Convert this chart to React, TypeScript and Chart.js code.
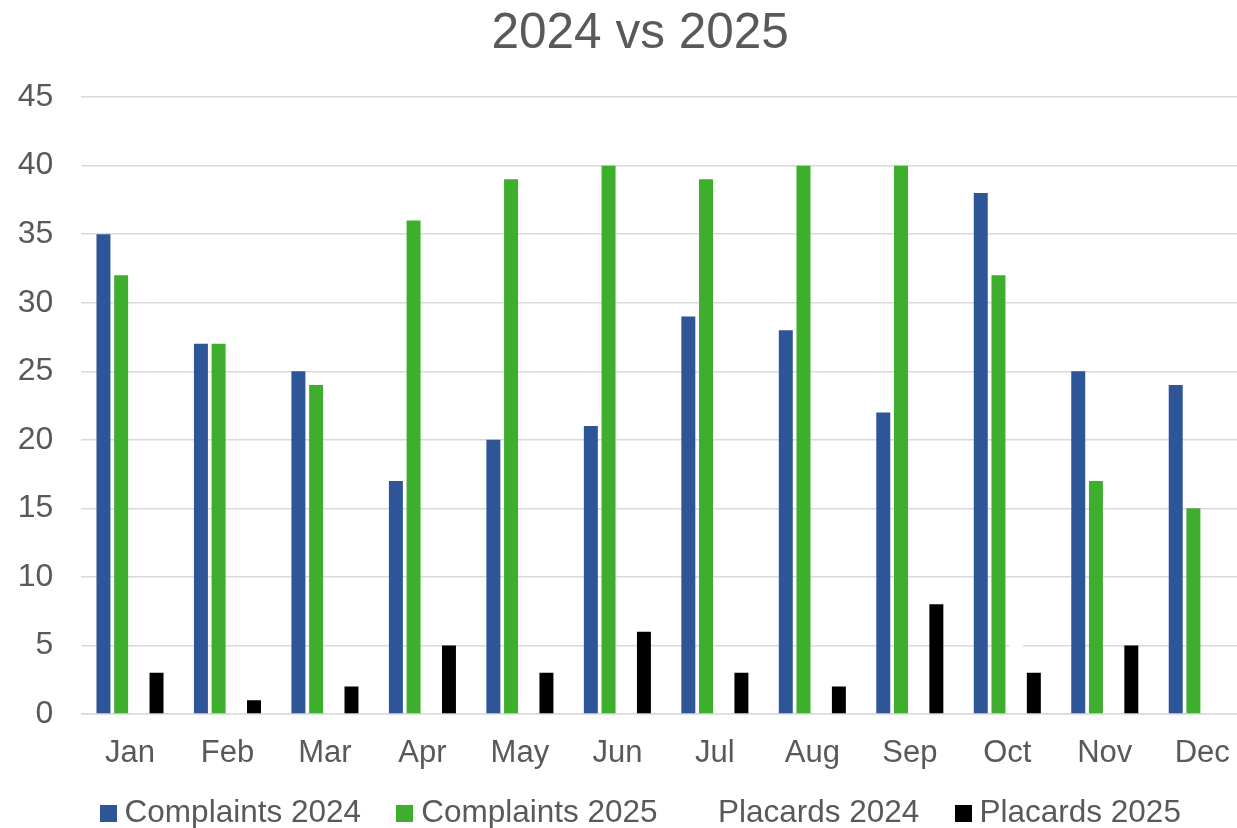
import React, { useEffect, useRef } from "react";
import { Chart, registerables } from "chart.js";

Chart.register(...registerables);

const months = ["Jan", "Feb", "Mar", "Apr", "May", "Jun", "Jul", "Aug", "Sep", "Oct", "Nov", "Dec"];
const complaints2024 = [35, 27, 25, 17, 20, 21, 29, 28, 22, 38, 25, 24];
const complaints2025 = [32, 27, 24, 36, 39, 40, 39, 40, 40, 32, 17, 15];
// white bars: only October's rises above the 5 gridline; the rest are estimated below 5
const placards2024 = [2, 2, 2, 2, 2, 2, 2, 2, 2, 6, 2, 2];
const placards2025 = [3, 1, 2, 5, 3, 6, 3, 2, 8, 3, 5, 0];
const yTicks = [0, 5, 10, 15, 20, 25, 30, 35, 40, 45];

const seriesColors = ["#2E5597", "#3DAF2C", "#FFFFFF", "#000000"];

const FONT = '"Liberation Sans", Arial, sans-serif';
const TEXT = "#595959";
const LEGEND_PAD = 43;

const placePlugin = {
  id: "placeBlocks",
  afterLayout(chart: any) {
    const t = chart.titleBlock;
    if (t) {
      t.left += 7;
      t.right += 7;
    }
    const lg = chart.legend;
    if (lg) {
      lg.left += 11;
      lg.right += 11;
      lg.top = 813 - 15.75 - LEGEND_PAD;
      lg.bottom = 828;
    }
  },
};

function makeSwatch(color: string) {
  const c = document.createElement("canvas");
  c.width = 17;
  c.height = 17;
  const g = c.getContext("2d");
  if (g) {
    g.fillStyle = color;
    g.fillRect(0, 0, 17, 17);
  }
  return c;
}

export default function App() {
  const ref = useRef<HTMLCanvasElement | null>(null);
  useEffect(() => {
    if (!ref.current) return;
    const swatches = seriesColors.map(makeSwatch);
    const defaultGen = (Chart as any).defaults.plugins.legend.labels.generateLabels;
    const common = { categoryPercentage: 0.726, barPercentage: 0.79, borderWidth: 0 };
    const chart = new Chart(ref.current, {
      type: "bar",
      data: {
        labels: months,
        datasets: [
          { label: "Complaints 2024", data: complaints2024, backgroundColor: seriesColors[0], ...common },
          { label: "Complaints 2025", data: complaints2025, backgroundColor: seriesColors[1], ...common },
          { label: "Placards 2024", data: placards2024, backgroundColor: seriesColors[2], ...common },
          { label: "Placards 2025", data: placards2025, backgroundColor: seriesColors[3], ...common },
        ],
      },
      plugins: [placePlugin],
      options: {
        responsive: false,
        animation: false,
        layout: { padding: { left: 15.25, right: 29, top: 0, bottom: 0 } },
        plugins: {
          title: {
            display: true,
            text: "2024 vs 2025",
            color: TEXT,
            font: { family: FONT, size: 49.5, weight: "normal" },
            padding: { top: 5, bottom: 32.7 },
          },
          legend: {
            position: "bottom",
            maxHeight: 54,
            labels: {
              color: TEXT,
              font: { family: FONT, size: 31.5 },
              usePointStyle: true,
              boxWidth: 1.5,
              boxHeight: 17,
              padding: LEGEND_PAD,
              generateLabels: (c: any) =>
                defaultGen(c).map((item: any, i: number) => ({ ...item, pointStyle: swatches[i] })),
            },
          },
          tooltip: { enabled: false },
        },
        scales: {
          x: {
            afterFit: (scale: any) => {
              scale.height = 60;
            },
            grid: { display: false, drawTicks: false },
            border: { display: true, color: "#D9D9D9", width: 1.5 },
            ticks: { color: TEXT, font: { family: FONT, size: 31 }, padding: 21, maxRotation: 0 },
          },
          y: {
            min: 0,
            max: 45,
            afterBuildTicks: (scale: any) => {
              scale.ticks = yTicks.map((v) => ({ value: v }));
            },
            afterFit: (scale: any) => {
              scale.width = 66;
            },
            grid: { color: "#D9D9D9", lineWidth: 1.5, drawTicks: false },
            border: { display: false },
            ticks: { color: TEXT, font: { family: FONT, size: 32 }, padding: 28 },
          },
        },
      },
    });
    return () => chart.destroy();
  }, []);
  return (
    <div style={{ position: "absolute", left: 0, top: 0, width: 1237, height: 828, overflow: "hidden", background: "#fff" }}>
      <canvas ref={ref} width={1280} height={828} style={{ width: 1280, height: 828, display: "block" }} />
    </div>
  );
}
